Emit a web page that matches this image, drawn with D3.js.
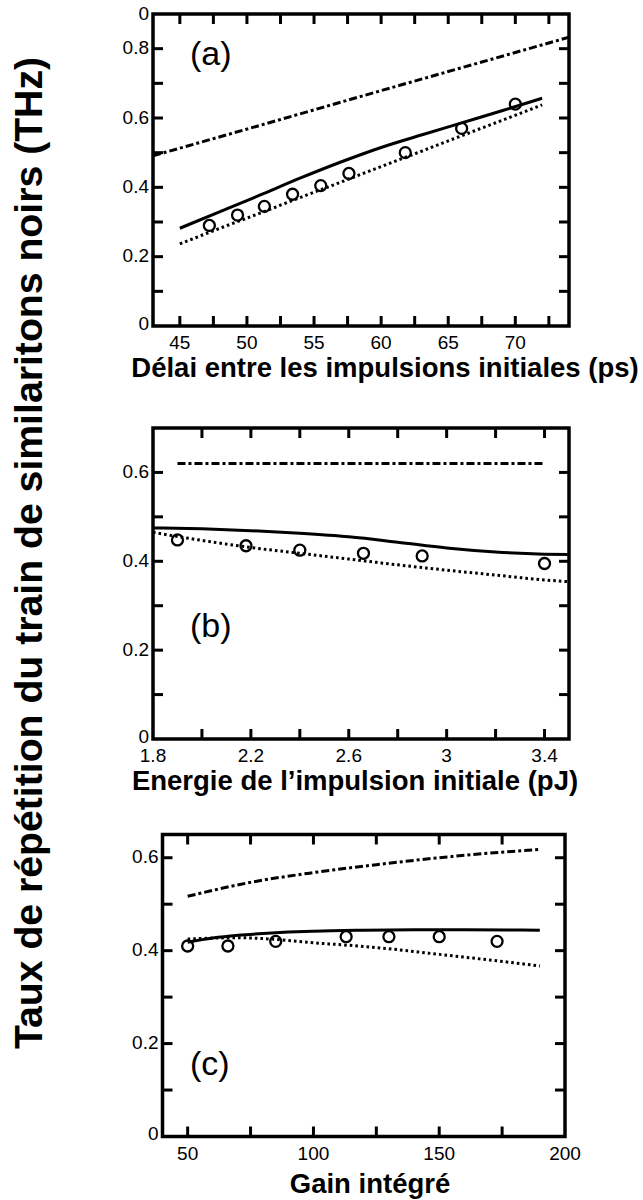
<!DOCTYPE html>
<html>
<head>
<meta charset="utf-8">
<script src="https://cdn.jsdelivr.net/npm/d3@7"></script>
<style>
  body { margin: 0; background: #fff; overflow: hidden; }
  svg { display: block; }
  text { font-family: "Liberation Sans", Arial, Helvetica, sans-serif; fill: #000; }
</style>
</head>
<body>
<svg id="fig" width="643" height="1200"></svg>
<script>
// ---------- (a) rate vs. delay between the initial pulses ----------
const delayCurveX   = [45, 48, 51, 54, 57, 60, 63, 66, 69, 72];
const delaySolid    = [0.282, 0.330, 0.378, 0.427, 0.473, 0.515, 0.551, 0.586, 0.621, 0.657];
const delayDotted   = [0.237, 0.282, 0.326, 0.371, 0.415, 0.460, 0.504, 0.549, 0.593, 0.638];
const delayDashX    = [43, 50, 60, 70, 74];
const delayDash     = [0.491, 0.568, 0.679, 0.789, 0.833];
const delayMeasX    = [47.2, 49.3, 51.3, 53.4, 55.5, 57.6, 61.8, 66.0, 70.0];
const delayMeas     = [0.29, 0.32, 0.345, 0.38, 0.405, 0.44, 0.50, 0.57, 0.64];
const delayXLabels  = [45, 50, 55, 60, 65, 70];
const delayXMinor   = [45, 47.5, 50, 52.5, 55, 57.5, 60, 62.5, 65, 67.5, 70, 72.5];
const delayYValues  = [0, 0.2, 0.4, 0.6, 0.8, 0.9];
const delayYLabels  = ["0", "0.2", "0.4", "0.6", "0.8", "0"];
const delayYMinor   = [0.1, 0.2, 0.3, 0.4, 0.5, 0.6, 0.7, 0.8];

// ---------- (b) rate vs. energy of the initial pulse ----------
const energyCurveX  = [1.8, 2.0, 2.2, 2.4, 2.6, 2.8, 3.0, 3.2, 3.4, 3.5];
const energySolid   = [0.475, 0.473, 0.469, 0.463, 0.455, 0.443, 0.430, 0.421, 0.416, 0.415];
const energyDotted  = [0.465, 0.447, 0.431, 0.418, 0.405, 0.392, 0.380, 0.369, 0.358, 0.354];
const energyDashX   = [1.9, 3.4];
const energyDash    = [0.62, 0.62];
const energyMeasX   = [1.9, 2.18, 2.4, 2.66, 2.9, 3.4];
const energyMeas    = [0.448, 0.435, 0.425, 0.418, 0.412, 0.395];
const energyXLabels = [1.8, 2.2, 2.6, 3, 3.4];
const energyXMinor  = [2.0, 2.2, 2.4, 2.6, 2.8, 3.0, 3.2, 3.4];
const energyYValues = [0, 0.2, 0.4, 0.6];
const energyYLabels = ["0", "0.2", "0.4", "0.6"];
const energyYMinor  = [0.1, 0.2, 0.3, 0.4, 0.5, 0.6];

// ---------- (c) rate vs. integrated gain ----------
const gainCurveX    = [50, 60, 70, 80, 90, 100, 120, 140, 160, 190];
const gainSolid     = [0.418, 0.427, 0.433, 0.437, 0.440, 0.442, 0.444, 0.445, 0.445, 0.444];
const gainDottedX   = [50, 60, 70, 80, 100, 120, 130, 150, 170, 190];
const gainDotted    = [0.425, 0.427, 0.428, 0.426, 0.417, 0.409, 0.404, 0.392, 0.380, 0.367];
const gainDashX     = [50, 75, 100, 125, 150, 175, 190];
const gainDash      = [0.517, 0.547, 0.568, 0.585, 0.600, 0.612, 0.618];
const gainMeasX     = [50, 66, 85, 113, 130, 150, 173];
const gainMeas      = [0.41, 0.41, 0.42, 0.43, 0.43, 0.43, 0.42];
const gainXLabels   = [50, 100, 150, 200];
const gainXMinor    = [50, 75, 100, 125, 150, 175];
const gainYValues   = [0, 0.2, 0.4, 0.6];
const gainYLabels   = ["0", "0.2", "0.4", "0.6"];
const gainYMinor    = [0.1, 0.2, 0.3, 0.4, 0.5, 0.6];

const yTitle = "Taux de répétition du train de similaritons noirs (THz)";

const panels = [
  {
    key: "a", tag: "(a)", title: "Délai entre les impulsions initiales (ps)",
    box: { left: 153, right: 569, top: 14, bottom: 326 },
    xDomain: [43, 74], yDomain: [0, 0.9],
    solid: d3.zip(delayCurveX, delaySolid), dotted: d3.zip(delayCurveX, delayDotted),
    dash: d3.zip(delayDashX, delayDash), meas: d3.zip(delayMeasX, delayMeas),
    xLabels: delayXLabels, xMinor: delayXMinor,
    yValues: delayYValues, yLabels: delayYLabels, yMinor: delayYMinor,
    titleX: 385, titleY: 377, tagY: 65
  },
  {
    key: "b", tag: "(b)", title: "Energie de l\u2019impulsion initiale (pJ)",
    box: { left: 153, right: 569, top: 428, bottom: 739 },
    xDomain: [1.8, 3.5], yDomain: [0, 0.7],
    solid: d3.zip(energyCurveX, energySolid), dotted: d3.zip(energyCurveX, energyDotted),
    dash: d3.zip(energyDashX, energyDash), meas: d3.zip(energyMeasX, energyMeas),
    xLabels: energyXLabels, xMinor: energyXMinor,
    yValues: energyYValues, yLabels: energyYLabels, yMinor: energyYMinor,
    titleX: 355, titleY: 790, tagY: 637
  },
  {
    key: "c", tag: "(c)", title: "Gain intégré",
    box: { left: 162.5, right: 565, top: 834.5, bottom: 1136.5 },
    xDomain: [40, 200], yDomain: [0, 0.65],
    solid: d3.zip(gainCurveX, gainSolid), dotted: d3.zip(gainDottedX, gainDotted),
    dash: d3.zip(gainDashX, gainDash), meas: d3.zip(gainMeasX, gainMeas),
    xLabels: gainXLabels, xMinor: gainXMinor,
    yValues: gainYValues, yLabels: gainYLabels, yMinor: gainYMinor,
    titleX: 370, titleY: 1193, tagY: 1075
  }
];

const svg = d3.select("#fig");
const TICK = 10;    // tick length
const TW = 3;       // tick width
const FW = 3.5;     // frame width
const tickFont = 19;

panels.forEach(p => {
  const b = p.box;
  const x = d3.scaleLinear().domain(p.xDomain).range([b.left, b.right]);
  const y = d3.scaleLinear().domain(p.yDomain).range([b.bottom, b.top]);
  const g = svg.append("g").attr("class", "panel-" + p.key);

  // inward ticks on all four sides (stroked paths, same styling as the curves)
  const tickLine = d3.line();
  const segs = [];
  p.xMinor.forEach(v => {
    segs.push([[x(v), b.bottom], [x(v), b.bottom - TICK]]);
    segs.push([[x(v), b.top], [x(v), b.top + TICK]]);
  });
  p.yMinor.forEach(v => {
    segs.push([[b.left, y(v)], [b.left + TICK, y(v)]]);
    segs.push([[b.right, y(v)], [b.right - TICK, y(v)]]);
  });
  g.append("g").selectAll("path").data(segs).join("path")
    .attr("d", tickLine)
    .attr("fill", "none").attr("stroke", "#000").attr("stroke-width", TW);

  // frame
  const frame = [[b.left, b.top], [b.right, b.top], [b.right, b.bottom], [b.left, b.bottom], [b.left, b.top]];
  g.append("path").datum(frame).attr("d", d3.line())
    .attr("fill", "none").attr("stroke", "#000").attr("stroke-width", FW)
    .attr("stroke-linecap", "square").attr("stroke-linejoin", "miter");

  // curves and points (clipped to the plot box)
  g.append("clipPath").attr("id", "clip-" + p.key)
    .append("rect")
    .attr("x", b.left).attr("y", b.top)
    .attr("width", b.right - b.left).attr("height", b.bottom - b.top);
  const line = d3.line().x(d => x(d[0])).y(d => y(d[1])).curve(d3.curveMonotoneX);
  const plot = g.append("g").attr("clip-path", `url(#clip-${p.key})`);
  plot.append("path").datum(p.dash).attr("d", line)
    .attr("fill", "none").attr("stroke", "#000").attr("stroke-width", 3)
    .attr("stroke-dasharray", "8,3,3,3");
  plot.append("path").datum(p.solid).attr("d", line)
    .attr("fill", "none").attr("stroke", "#000").attr("stroke-width", 3);
  plot.append("path").datum(p.dotted).attr("d", line)
    .attr("fill", "none").attr("stroke", "#000").attr("stroke-width", 3)
    .attr("stroke-dasharray", "2.6,3");
  plot.append("g").selectAll("circle").data(p.meas).join("circle")
    .attr("cx", d => x(d[0])).attr("cy", d => y(d[1])).attr("r", 5.5)
    .attr("fill", "none").attr("stroke", "#000").attr("stroke-width", 2.3);

  // tick labels
  g.append("g").selectAll("text").data(p.xLabels).join("text")
    .attr("x", d => x(d)).attr("y", b.bottom + 23)
    .attr("text-anchor", "middle").style("font-size", tickFont + "px")
    .text(d => d3.format("")(d));
  g.append("g").selectAll("text").data(p.yValues).join("text")
    .attr("x", b.left - 4).attr("y", d => y(d) - (d === 0 ? 2 : 0)).attr("dy", "0.3em")
    .attr("text-anchor", "end").style("font-size", tickFont + "px")
    .text((d, i) => p.yLabels[i]);

  // axis title
  g.append("text").attr("x", p.titleX).attr("y", p.titleY)
    .attr("text-anchor", "middle")
    .style("font-size", "27.5px").style("font-weight", "bold")
    .text(p.title);

  // panel tag
  g.append("text").attr("x", 190).attr("y", p.tagY)
    .style("font-size", "34px").text(p.tag);
});

// shared vertical title
svg.append("text")
  .attr("transform", "translate(42,553) rotate(-90)")
  .attr("text-anchor", "middle")
  .style("font-size", "39.2px").style("font-weight", "bold")
  .text(yTitle);
</script>
</body>
</html>
